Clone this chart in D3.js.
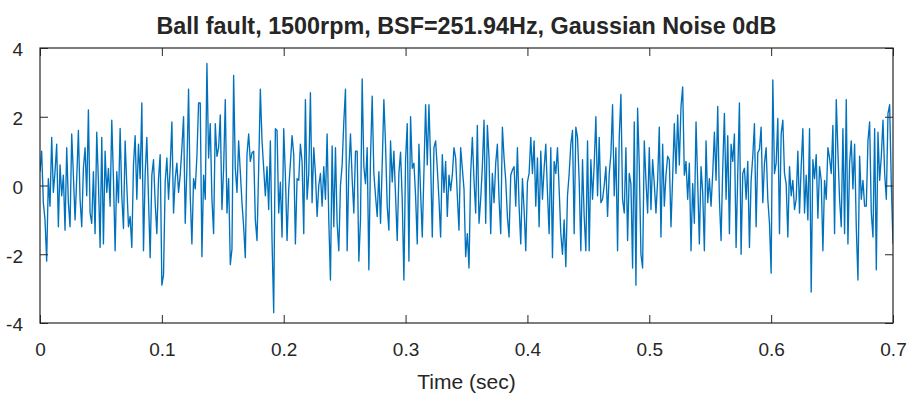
<!DOCTYPE html>
<html>
<head>
<meta charset="utf-8">
<script src="https://cdn.jsdelivr.net/npm/d3@7/dist/d3.min.js"></script>
<style>
  html, body { margin: 0; padding: 0; background: #fff; }
  svg { display: block; }
  text { font-family: "Liberation Sans", Arial, Helvetica, sans-serif; fill: #262626; }
</style>
</head>
<body>
<svg id="chart" width="912" height="397"></svg>
<script>
// ---------------- DATA ----------------
const titleText = "Ball fault, 1500rpm, BSF=251.94Hz, Gaussian Noise 0dB";
const xLabelText = "Time (sec)";
const timeStart = 0;
const timeEnd = 0.7;
const xTickValues = [0, 0.1, 0.2, 0.3, 0.4, 0.5, 0.6, 0.7];
const xTickLabels = ["0", "0.1", "0.2", "0.3", "0.4", "0.5", "0.6", "0.7"];
const yTickValues = [-4, -2, 0, 2, 4];
const yTickLabels = ["-4", "-2", "0", "2", "4"];
const yDomain = [-4, 4];

// amplitude samples, evenly spaced over 0 .. 0.7 s
const amplitude = [
  // 0.000 - 0.087 s
  0.4, 1.0, -0.5, -1.0, -2.2, 0.2, -0.6, 1.4, -0.2, 0.4, 1.2, -1.2, 0.6, -0.3, 0.3, -1.3,
  1.1, -0.5, -1.2, 1.5, 0.3, -1.0, 0.2, 1.6, -0.4, -1.2, 0.5, 1.1, -0.3, 2.2, -0.8, -1.1,
  0.4, -1.4, 1.55, 0.1, -1.8, 1.4, -1.7, 1.0, -0.2, 0.5, -0.6, 1.9, 0.2, -1.9, 0.4, -0.5,
  1.66, -0.3, -1.25, 1.3, 0.0, -1.2, -0.9, -1.8, 0.6, 1.45, -0.4, 1.2, 0.2, 2.4, -1.9, 0.35,
  // 0.087 - 0.175 s
  1.4, -0.4, -2.1, 0.3, 0.75, -0.5, -1.4, 0.2, 0.9, -2.9, -2.6, 0.1, 0.8, -0.4, 0.55, 1.85,
  -0.8, 0.2, 0.65, -0.2, 0.3, 1.1, 2.0, -1.1, 0.5, 2.8, -0.3, -1.7, 0.2, -0.1, 0.85, 2.4,
  2.4, -2.07, 0.3, -0.4, 3.55, 0.8, 1.8, -0.4, -1.4, 1.8, 0.85, 1.1, 2.05, -0.7, 0.5, 2.5,
  -0.8, 0.2, -2.3, -1.85, 3.2, 0.5, -0.2, 1.3, 0.4, -0.5, -1.2, -2.1, 0.9, 1.5, 0.7, 0.95,
  // 0.175 - 0.262 s
  1.0, -1.0, -1.6, 0.5, 2.8, 1.3, 0.5, -0.3, 0.55, -0.7, 1.3, -1.6, -3.7, 1.65, 1.6, -0.8,
  0.1, -1.5, 1.65, 0.3, -1.6, -0.1, 0.65, 1.45, 0.9, -1.7, 0.2, 0.15, 1.2, 0.7, -1.4, 2.5,
  -0.4, 0.35, 2.7, -0.5, 1.1, 0.35, -0.9, 0.0, 0.35, -0.6, 0.55, -0.4, 1.5, -1.0, -2.75, 1.15,
  -1.2, 1.1, -1.1, -1.9, 0.0, 0.6, 1.85, 2.8, -1.9, 0.45, 1.5, 0.2, -0.8, 1.0, 1.0, -2.2,
  // 0.262 - 0.350 s
  -1.0, 3.1, 0.55, 0.05, 1.1, -2.45, 0.8, 2.6, 0.35, -0.3, -0.9, 0.4, -1.1, 0.6, 2.5, 1.2,
  -0.6, -1.3, 1.3, 0.1, 1.0, -0.3, -1.6, 0.35, 0.97, -0.4, -2.75, 0.75, 1.8, -2.2, 2.0, 0.5,
  0.65, -0.3, -1.7, 1.2, -0.2, -1.5, 0.4, 2.35, 0.6, 2.35, 0.7, -1.5, 1.1, 1.3, 0.5, -0.4,
  -1.5, 0.9, -0.2, 0.7, -0.9, 0.3, -0.15, 0.3, 1.1, 0.8, -0.3, -1.3, 1.1, 0.5, -0.1, -2.07,
  // 0.350 - 0.437 s
  -1.4, -2.4, 0.35, 1.4, 0.15, -0.8, 1.75, -1.1, -0.4, 0.55, 1.9, -1.1, 1.75, 0.8, -1.4, 0.35,
  -0.5, 0.65, 1.2, -0.4, -1.4, 1.7, 0.8, 0.15, -0.9, -1.5, 0.3, 0.45, 0.55, -0.6, 1.1, -0.6,
  -1.7, 0.2, -0.7, -1.9, 0.1, 0.35, 1.4, 0.35, 1.3, -0.6, 0.8, -1.2, 1.0, -0.4, 0.5, 1.2,
  -0.2, -1.4, 1.1, -2.1, 0.7, 0.35, 1.1, -0.1, -1.4, -2.0, -1.0, -2.36, -0.3, 0.35, 1.2, 1.6,
  // 0.437 - 0.525 s
  -1.4, 1.7, 1.4, 0.15, -1.9, 0.75, -0.9, -1.9, 1.3, -1.9, 0.75, -0.4, 0.6, 2.0, -0.3, 1.4,
  -0.5, -0.4, 0.0, 0.55, -0.9, 0.35, 0.9, 2.35, -0.3, 1.1, -1.9, 1.4, 2.65, -0.4, -0.8, 1.1,
  -1.6, 0.35, 0.05, -2.4, 1.85, -2.9, 2.25, 0.6, -2.0, -2.4, 1.3, 0.15, -0.8, 1.1, -0.7, 0.75,
  0.05, -0.8, 0.15, 1.7, -1.5, 1.2, -0.6, 0.3, 0.85, 0.75, -1.2, 0.25, 1.8, 0.35, 2.05, 0.6,
  // 0.525 - 0.612 s
  2.3, 2.87, 0.3, 0.7, -0.4, 0.65, -1.9, 0.05, -1.1, 1.85, 0.1, -1.7, 0.55, -0.2, -1.9, 1.3,
  -0.5, 0.2, -0.6, 0.35, 1.55, 0.15, 2.3, -0.4, -1.6, 0.5, 2.1, -0.4, 1.45, -1.4, 1.2, 0.7,
  1.5, -1.8, 0.35, 2.4, -2.0, 0.35, 0.5, -0.4, 0.7, -1.8, 0.15, 0.85, 1.8, -1.2, 0.95, 1.05,
  1.7, -0.5, 0.65, 1.1, -0.4, -1.1, -2.55, 3.07, 0.35, 0.65, 1.95, -1.4, 1.5, 1.9, 0.35, 0.05,
  // 0.612 - 0.700 s
  -1.5, 0.55, -0.3, 0.15, -0.7, -0.4, 1.0, -0.8, 0.55, 1.65, -0.8, 0.3, -1.0, 1.65, -3.1, 0.75,
  0.2, 0.9, -0.95, 0.55, 0.15, -1.9, 0.15, -0.4, 1.1, 0.8, 0.35, 1.75, -1.4, 2.5, 1.0, -0.4,
  -1.2, 1.65, -1.4, 2.5, -1.7, 0.65, 1.3, -0.1, 1.2, -1.2, -2.75, 0.85, -0.4, 0.15, -0.6, -0.6,
  1.3, 1.85, -0.8, -1.5, 1.65, -2.45, 1.55, 0.15, 0.85, 1.9, 0.35, -0.4, 2.1, 2.35, 0.0, -1.7
];

// ---------------- LAYOUT ----------------
const width = 912, height = 397;
const margin = { left: 40, right: 19, top: 48, bottom: 74 };
const plotW = width - margin.left - margin.right;   // 853
const plotH = height - margin.top - margin.bottom;  // 275
const axisColor = "#262626";
const lineColor = "#0072BD";

const svg = d3.select("#chart");
const g = svg.append("g").attr("transform", `translate(${margin.left},${margin.top})`);

const x = d3.scaleLinear().domain([timeStart, timeEnd]).range([0, plotW]);
const y = d3.scaleLinear().domain(yDomain).range([plotH, 0]);

const n = amplitude.length;
const points = amplitude.map((v, i) => [timeStart + i * (timeEnd - timeStart) / (n - 1), v]);

// clip
svg.append("defs").append("clipPath").attr("id", "clip")
  .append("rect").attr("x", 0).attr("y", 0).attr("width", plotW).attr("height", plotH);

// line
g.append("path")
  .datum(points)
  .attr("clip-path", "url(#clip)")
  .attr("fill", "none")
  .attr("stroke", lineColor)
  .attr("stroke-width", 1.35)
  .attr("stroke-linejoin", "round")
  .attr("d", d3.line().x(d => x(d[0])).y(d => y(d[1])));

// axes (ticks inward, mirrored)
const tickLen = 8;
function styleAxis(sel) {
  sel.select(".domain").remove();
  sel.selectAll(".tick line").attr("stroke", axisColor).attr("stroke-width", 1);
  sel.selectAll(".tick text")
    .style("font-family", '"Liberation Sans", Arial, sans-serif')
    .attr("fill", axisColor);
}

const xBottom = g.append("g").attr("transform", `translate(0,${plotH})`)
  .call(d3.axisBottom(x).tickValues(xTickValues).tickSizeInner(-tickLen).tickSizeOuter(0)
    .tickPadding(tickLen + 12).tickFormat((d, i) => xTickLabels[i]));
styleAxis(xBottom);
xBottom.selectAll(".tick text").style("font-size", "19px").attr("dy", "0.71em");

const xTop = g.append("g")
  .call(d3.axisTop(x).tickValues(xTickValues).tickSizeInner(-tickLen).tickSizeOuter(0).tickFormat(""));
styleAxis(xTop);

const yLeft = g.append("g")
  .call(d3.axisLeft(y).tickValues(yTickValues).tickSizeInner(-tickLen).tickSizeOuter(0)
    .tickPadding(tickLen + 9).tickFormat((d, i) => yTickLabels[i]));
styleAxis(yLeft);
yLeft.selectAll(".tick text").style("font-size", "19px").attr("dy", "0.42em");

const yRight = g.append("g").attr("transform", `translate(${plotW},0)`)
  .call(d3.axisRight(y).tickValues(yTickValues).tickSizeInner(-tickLen).tickSizeOuter(0).tickFormat(""));
styleAxis(yRight);

// box
g.append("rect")
  .attr("x", 0).attr("y", 0).attr("width", plotW).attr("height", plotH)
  .attr("fill", "none").attr("stroke", axisColor).attr("stroke-width", 1.2);

// title
svg.append("text")
  .attr("x", margin.left + plotW / 2).attr("y", 34)
  .attr("text-anchor", "middle")
  .style("font-size", "23px").style("font-weight", "bold")
  .attr("textLength", 620).attr("lengthAdjust", "spacingAndGlyphs")
  .text(titleText);

// x label
svg.append("text")
  .attr("x", margin.left + plotW / 2).attr("y", 389)
  .attr("text-anchor", "middle")
  .style("font-size", "21px")
  .text(xLabelText);
</script>
</body>
</html>
